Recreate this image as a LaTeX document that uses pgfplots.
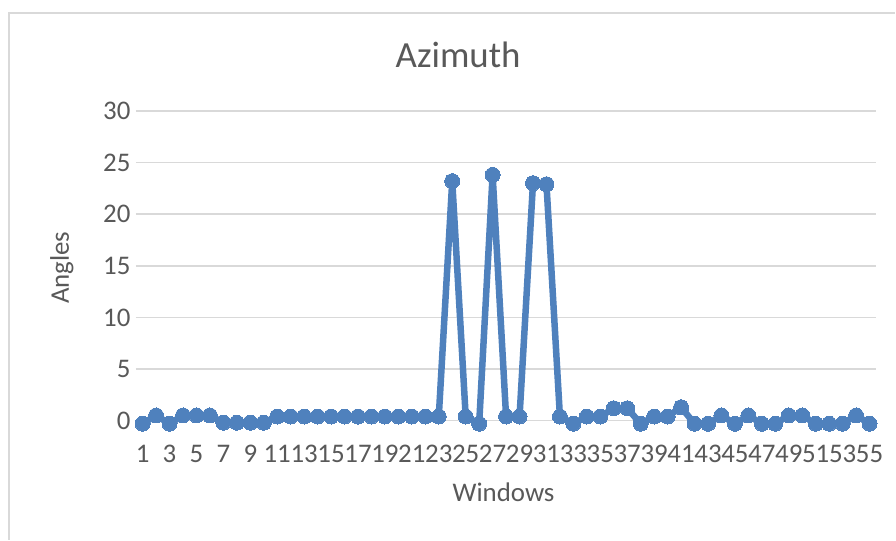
\documentclass[border=0pt]{standalone}
\usepackage{pgfplots}
\pgfplotsset{compat=1.18}
\usepackage{fontspec}
\setmainfont{Carlito}
\definecolor{ln}{HTML}{4F81BD}
\definecolor{txt}{HTML}{595959}
\definecolor{grd}{HTML}{D9D9D9}
\begin{document}
\begin{tikzpicture}[x=1bp,y=1bp]
\fill[white] (0,0) rectangle (896,540);
\draw[grd, line width=1.5bp] (9,0) -- (9,527) -- (896,527);
\node[text=txt, font=\fontsize{37}{37}\selectfont] at (458.5,485) {Azimuth};
\node[text=txt, font=\fontsize{27}{27}\selectfont] at (504,47) {Windows};
\node[text=txt, font=\fontsize{27}{27}\selectfont, rotate=90] at (62,272) {Angles};
\begin{axis}[at={(136bp,119bp)}, anchor=south west, scale only axis,
  width=741bp, height=310bp, xmin=0.5, xmax=55.5, ymin=0, ymax=30,
  clip=false, axis line style={draw=none}, ytick={0,5,...,30}, xtick={1,3,...,55},
  major tick length=0pt, ymajorgrids, grid style={grd, line width=1.5bp},
  tick label style={font=\fontsize{27}{27}\selectfont, text=txt},
  /pgf/number format/assume math mode=true,
  yticklabel style={anchor=east, xshift=-2bp},
  xticklabel style={anchor=north, yshift=-24bp, inner sep=0pt},
]
\addplot[ln, line width=6.5bp, mark=*, mark size=7.5bp, mark options={fill=ln, draw=ln, line width=0pt}] coordinates {
(1,-0.3) (2,0.5) (3,-0.3) (4,0.5) (5,0.5) (6,0.5) (7,-0.2) (8,-0.2) (9,-0.2) (10,-0.2)
(11,0.4) (12,0.4) (13,0.4) (14,0.4) (15,0.4) (16,0.4) (17,0.4) (18,0.4) (19,0.4) (20,0.4)
(21,0.4) (22,0.4) (23,0.4) (24,23.2) (25,0.4) (26,-0.3) (27,23.8) (28,0.4) (29,0.4) (30,23.0)
(31,22.9) (32,0.4) (33,-0.3) (34,0.4) (35,0.4) (36,1.2) (37,1.2) (38,-0.3) (39,0.4) (40,0.4)
(41,1.3) (42,-0.3) (43,-0.3) (44,0.5) (45,-0.3) (46,0.5) (47,-0.3) (48,-0.3) (49,0.5) (50,0.5)
(51,-0.3) (52,-0.3) (53,-0.3) (54,0.5) (55,-0.3)
};
\end{axis}
\end{tikzpicture}
\end{document}
